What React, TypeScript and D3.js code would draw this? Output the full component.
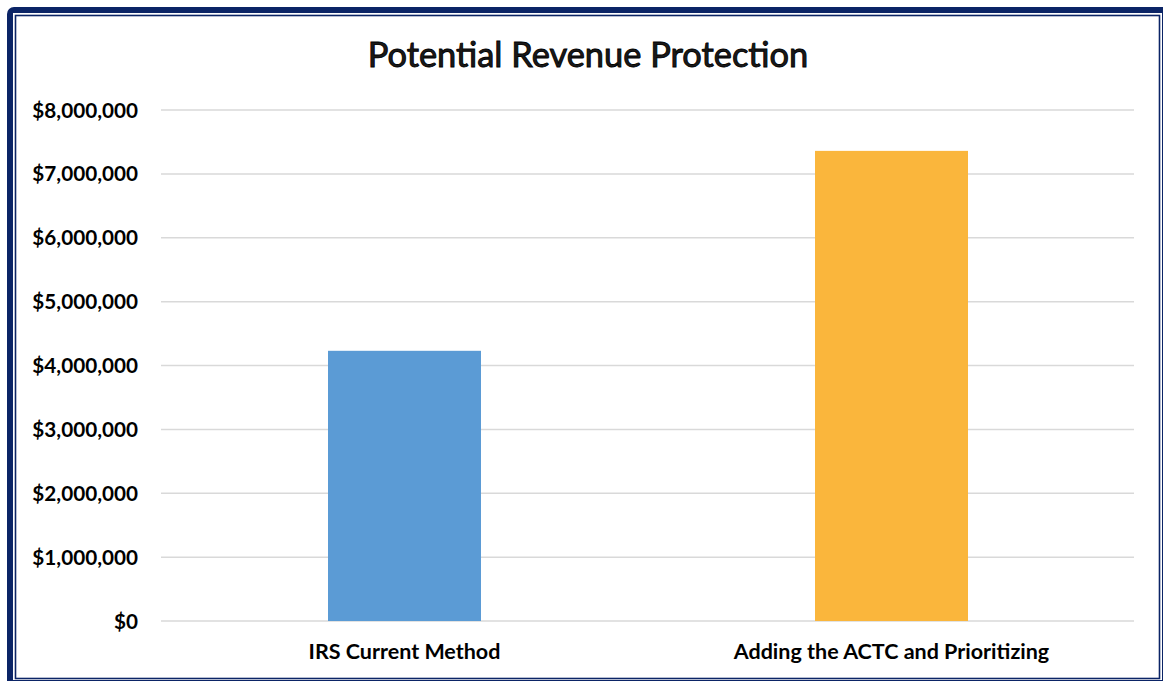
import React from "react";
import * as d3 from "d3";

// chart data
const categories = ["IRS Current Method", "Adding the ACTC and Prioritizing"];
const values = [4230000, 7360000];
const barColors = ["#5B9BD5", "#FAB63C"];
const yTicks = [0, 1000000, 2000000, 3000000, 4000000, 5000000, 6000000, 7000000, 8000000];

const W = 1163;
const H = 681;
const navy = "#0B2466";
const font = "Lato, 'Open Sans', sans-serif";

export default function App() {
  const y = d3.scaleLinear().domain([0, 8000000]).range([621, 110]);
  const x = d3.scaleBand().domain(categories).range([161, 1135]).paddingInner(0).paddingOuter(0);
  const barW = 153;
  const fmt = (v: number) => "$" + d3.format(",")(v);

  return (
    <div style={{ position: "absolute", left: 0, top: 0 }}>
      <svg width={W} height={H} style={{ display: "block" }}>
        <rect x={0} y={0} width={W} height={H} fill="#fff" />
        {/* frame */}
        <rect x={7} y={7} width={1170} height={690} rx={7} fill={navy} />
        <rect x={13} y={13} width={1149} height={667} fill="#fff" />
        <rect x={15.5} y={15.5} width={1144} height={663} fill="#fff" stroke={navy} strokeWidth={1.6} />

        {/* title */}
        <text
          x={588}
          y={67}
          textAnchor="middle"
          fontFamily={font}
          fontSize={34.4}
          fill="#1a1a1a"
          stroke="#000"
          strokeWidth={0.9}
        >
          Potential Revenue Protection
        </text>

        {/* gridlines */}
        {yTicks.map((t) => (
          <line key={t} x1={161} x2={1134} y1={y(t)} y2={y(t)} stroke="#D9D9D9" strokeWidth={1.5} />
        ))}

        {/* y labels */}
        {yTicks.map((t) => (
          <text
            key={"l" + t}
            x={138}
            y={y(t) + 7.5}
            textAnchor="end"
            fontFamily={font}
            fontWeight="bold"
            fontSize={20.7}
            fill="#000"
          >
            {fmt(t)}
          </text>
        ))}

        {/* bars */}
        {categories.map((c, i) => {
          const cx = (x(c) as number) + x.bandwidth() / 2;
          return (
            <rect
              key={c}
              x={cx - barW / 2}
              y={y(values[i])}
              width={barW}
              height={y(0) - y(values[i])}
              fill={barColors[i]}
            />
          );
        })}

        {/* category labels */}
        {categories.map((c) => (
          <text
            key={"c" + c}
            x={(x(c) as number) + x.bandwidth() / 2}
            y={659}
            textAnchor="middle"
            fontFamily={font}
            fontWeight="bold"
            fontSize={21.5}
            fill="#000"
          >
            {c}
          </text>
        ))}
      </svg>
    </div>
  );
}
